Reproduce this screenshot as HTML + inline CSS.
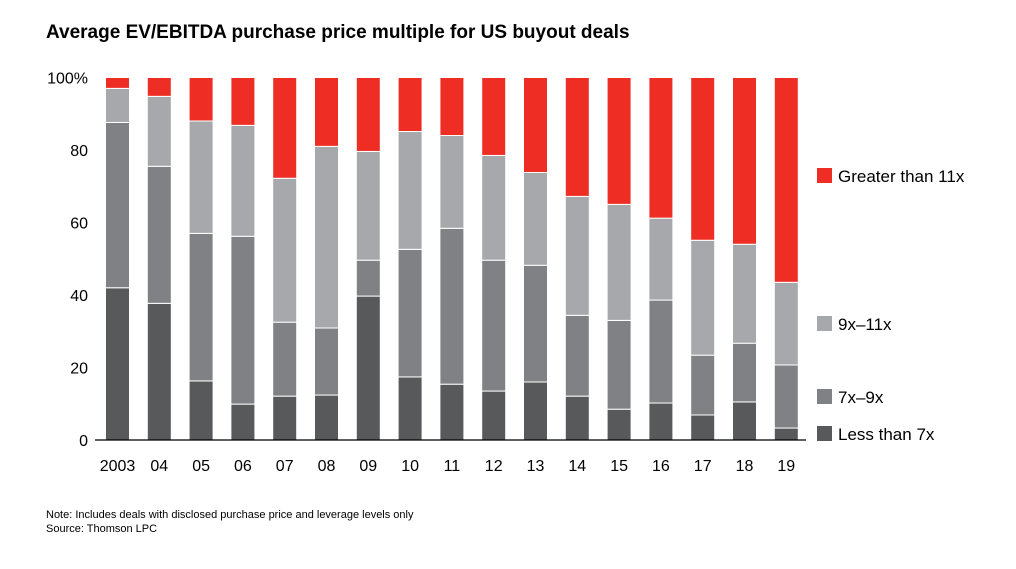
<!DOCTYPE html>
<html><head><meta charset="utf-8"><style>
body{margin:0;background:#fff;font-family:"Liberation Sans",Arial,sans-serif}
svg text{font-family:"Liberation Sans",Arial,sans-serif}
</style></head><body>
<svg id="c" width="1016" height="564">
<text x="46" y="38" font-size="19" font-weight="bold" fill="#000">Average EV/EBITDA purchase price multiple for US buyout deals</text>
<g id="bars"></g><g id="axis"></g><g id="legend"></g>
<text x="46" y="518" font-size="11">Note: Includes deals with disclosed purchase price and leverage levels only</text>
<text x="46" y="532" font-size="11">Source: Thomson LPC</text>
</svg>
<script>
const years=["2003","04","05","06","07","08","09","10","11","12","13","14","15","16","17","18","19"];
const lessThan7=[42,37.7,16.3,9.9,12.1,12.4,39.7,17.4,15.4,13.5,16,12.1,8.5,10.2,6.9,10.5,3.3];
const x7to9=[45.6,37.8,40.7,46.3,20.4,18.5,9.9,35.2,43,36.1,32.2,22.3,24.5,28.4,16.5,16.2,17.4];
const x9to11=[9.4,19.3,31,30.6,39.7,50.1,30,32.5,25.6,28.9,25.6,32.8,32,22.6,31.7,27.3,22.8];
const yTicks=[0,20,40,60,80,100];
const seriesNames=["Less than 7x","7x–9x","9x–11x","Greater than 11x"];
const colors=["#58595b","#808184","#a7a8ab","#ee2e24"];
const NS="http://www.w3.org/2000/svg";
const y0=440,y100=77.5,bw=24;
const yS=v=>y0-(y0-y100)*v/100;
const xS=i=>117.5+i*41.8;
function mk(t,a,p){const e=document.createElementNS(NS,t);for(const k in a)e.setAttribute(k,a[k]);p.appendChild(e);return e;}
const bars=document.getElementById('bars'),axis=document.getElementById('axis'),leg=document.getElementById('legend');
years.forEach((yr,i)=>{
  const g=mk('g',{},bars);
  
  
  const a=lessThan7[i],b=x7to9[i],c=x9to11[i];
  const segs=[[0,a],[a,a+b],[a+b,a+b+c],[a+b+c,100]];
  segs.forEach((s,k)=>{
    const r=mk('rect',{x:xS(i)-bw/2,y:yS(s[1]),width:bw,height:Math.max(0,yS(s[0])-yS(s[1])),fill:colors[k],stroke:'#fff','stroke-width':1},g);
    
    
  });
  const t=mk('text',{x:xS(i),y:471,'font-size':16,'text-anchor':'middle'},axis);
  t.textContent=yr;
  
  
});
yTicks.forEach(v=>{
  const t=mk('text',{x:88,y:yS(v)+6,'font-size':16,'text-anchor':'end'},axis);
  t.textContent=v===100?'100%':v;
  
  
});
const base=mk('line',{x1:95,x2:806,y1:y0,y2:y0,stroke:'#000','stroke-width':1.2},axis);


const legY=[434,397,324,176];
seriesNames.forEach((n,k)=>{
  const g=mk('g',{},leg);
  
  
  mk('rect',{x:817,y:legY[k]-8,width:15,height:15,fill:colors[k]},g);
  const t=mk('text',{x:838,y:legY[k]+6,'font-size':17},g);
  t.textContent=n;
});
</script>
</body></html>
